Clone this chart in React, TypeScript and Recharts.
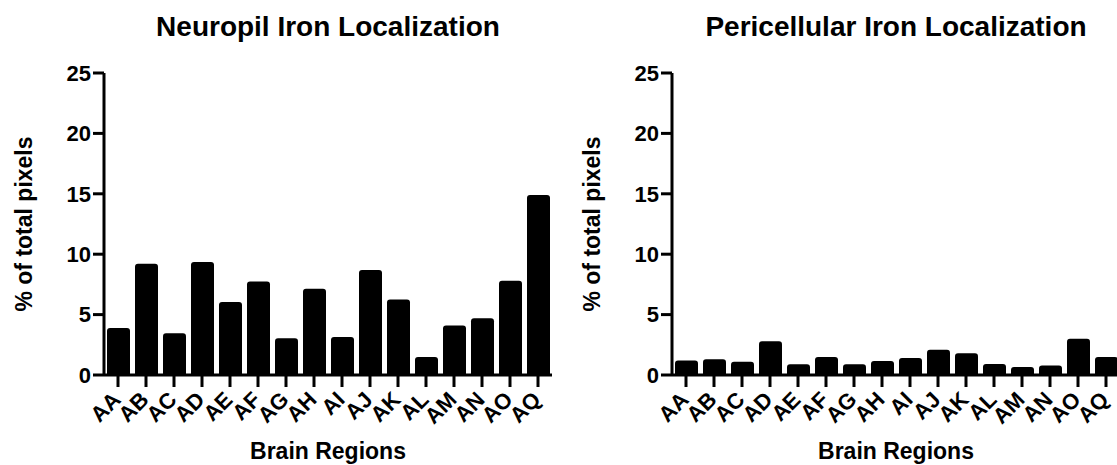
import { Bar, BarChart, Label, XAxis, YAxis } from "recharts";

const FONT = "'Liberation Sans', Arial, Helvetica, sans-serif";

const regions = ["AA", "AB", "AC", "AD", "AE", "AF", "AG", "AH", "AI", "AJ", "AK", "AL", "AM", "AN", "AO", "AQ"];
const neuropilValues = [3.9, 9.2, 3.45, 9.35, 6.05, 7.75, 3.05, 7.15, 3.15, 8.7, 6.25, 1.5, 4.1, 4.7, 7.8, 14.9];
const pericellularValues = [1.2, 1.3, 1.1, 2.8, 0.9, 1.5, 0.9, 1.15, 1.4, 2.1, 1.8, 0.92, 0.67, 0.78, 3.0, 1.5];
const yTicks = [0, 5, 10, 15, 20, 25];

const toRows = (values: number[]) => regions.map((region, i) => ({ region, value: values[i] }));

function RegionTick({ x, y, payload }: any) {
  const ax = x + 4;
  const ay = y + 12;
  return (
    <text
      x={ax}
      y={ay}
      transform={`rotate(-45 ${ax} ${ay})`}
      textAnchor="end"
      fontSize={22}
      fontWeight="bold"
      fontFamily={FONT}
      fill="#000"
    >
      {payload.value}
    </text>
  );
}

function Panel({ title, values, left }: { title: string; values: number[]; left: number }) {
  return (
    <div style={{ position: "absolute", left, top: 0, width: 560, height: 465 }}>
      <div
        style={{
          position: "absolute",
          left: 104,
          width: 448,
          top: 10,
          textAlign: "center",
          fontFamily: FONT,
          fontWeight: "bold",
          fontSize: 28,
          lineHeight: "34px",
          color: "#000",
          whiteSpace: "nowrap",
        }}
      >
        {title}
      </div>
      <BarChart
        width={560}
        height={465}
        data={toRows(values)}
        margin={{ top: 73, right: 8, bottom: 30, left: 44 }}
      >
        <XAxis
          dataKey="region"
          interval={0}
          height={60}
          tick={<RegionTick />}
          tickSize={12}
          tickLine={{ stroke: "#000", strokeWidth: 3 }}
          axisLine={{ stroke: "#000", strokeWidth: 3 }}
        >
          <Label
            content={({ viewBox }: any) => (
              <text
                x={viewBox.x + viewBox.width / 2}
                y={459}
                textAnchor="middle"
                fontSize={23}
                fontWeight="bold"
                fontFamily={FONT}
                fill="#000"
              >
                Brain Regions
              </text>
            )}
          />
        </XAxis>
        <YAxis
          domain={[0, 25]}
          ticks={yTicks}
          width={60}
          tickSize={11}
          tick={{ fontSize: 22, fontWeight: "bold", fontFamily: FONT, fill: "#000" }}
          tickLine={{ stroke: "#000", strokeWidth: 3 }}
          axisLine={{ stroke: "#000", strokeWidth: 3 }}
        >
          <Label
            content={({ viewBox }: any) => {
              const cy = viewBox.y + viewBox.height / 2;
              return (
                <text
                  x={24}
                  y={cy}
                  transform={`rotate(-90 24 ${cy})`}
                  textAnchor="middle"
                  dominantBaseline="central"
                  fontSize={23}
                  fontWeight="bold"
                  fontFamily={FONT}
                  fill="#000"
                >
                  % of total pixels
                </text>
              );
            }}
          />
        </YAxis>
        <Bar dataKey="value" fill="#000" barSize={23} radius={[3, 3, 0, 0]} isAnimationActive={false} />
      </BarChart>
    </div>
  );
}

export default function App() {
  return (
    <div
      style={{
        position: "absolute",
        left: 0,
        top: 0,
        width: 1117,
        height: 465,
        overflow: "hidden",
        background: "#fff",
      }}
    >
      <Panel title="Neuropil Iron Localization" values={neuropilValues} left={0} />
      <Panel title="Pericellular Iron Localization" values={pericellularValues} left={568} />
    </div>
  );
}
